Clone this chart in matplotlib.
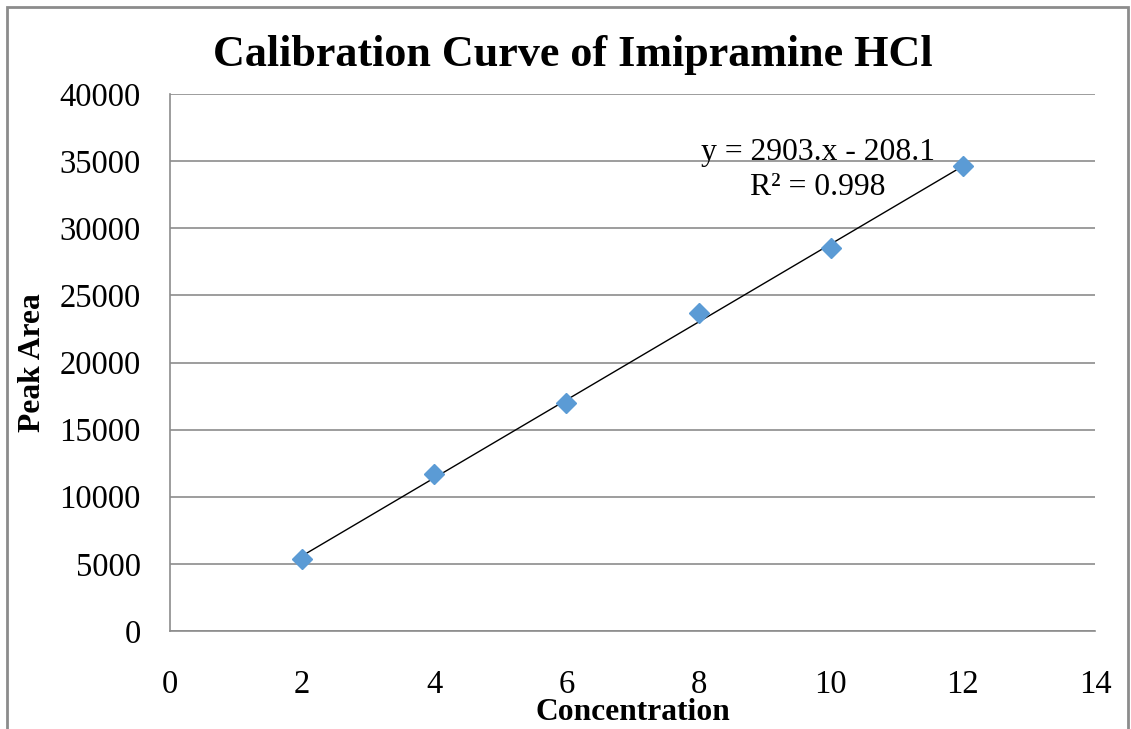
import matplotlib
matplotlib.use("Agg")
import matplotlib.pyplot as plt
from matplotlib.patches import Rectangle
import numpy as np

concentration = [2, 4, 6, 8, 10, 12]
peak_area = [5360, 11700, 16980, 23690, 28530, 34640]
slope = 2903.0
intercept = -208.1
eq_text = "y = 2903.x - 208.1"
r2_text = "R² = 0.998"
x_ticks = [0, 2, 4, 6, 8, 10, 12, 14]
y_ticks = [0, 5000, 10000, 15000, 20000, 25000, 30000, 35000, 40000]

plt.rcParams['font.family'] = ['Liberation Serif', 'DejaVu Serif']

W, H = 1131, 729
fig = plt.figure(figsize=(W / 100, H / 100), dpi=100)
ax = fig.add_axes([170 / W, 1 - 631 / H, (1095 - 170) / W, (631 - 94) / H])

ax.set_xlim(0, 14)
ax.set_ylim(0, 40000)
ax.set_xticks(x_ticks)
ax.set_yticks(y_ticks)
ax.tick_params(length=0, labelsize=23.5)
ax.tick_params(axis='y', pad=21)
ax.tick_params(axis='x', pad=28)
ax.grid(axis='y', color='#8c8c8c', lw=1.2)
ax.set_axisbelow(True)
for s in ['top', 'right']:
    ax.spines[s].set_visible(False)
for s in ['left', 'bottom']:
    ax.spines[s].set_color('#8c8c8c')
    ax.spines[s].set_linewidth(1.2)

xs = np.array([concentration[0], concentration[-1]])
ax.plot(xs, slope * xs + intercept, color='black', lw=1.0, zorder=3)
ax.plot(concentration, peak_area, linestyle='none', marker='D', ms=10,
        color='#5B9BD5', mec='#5B9BD5', zorder=4)

ax.text(9.81, 35630, eq_text, fontsize=22.8, ha='center', va='center')
ax.text(9.81, 33050, r2_text, fontsize=22.8, ha='center', va='center')

fig.text(573 / W, 1 - 55 / H, "Calibration Curve of Imipramine HCl",
         fontsize=31.8, fontweight='bold', ha='center', va='center')
fig.text(633 / W, 1 - 712 / H, "Concentration", fontsize=22.7,
         fontweight='bold', ha='center', va='center')
fig.text(32 / W, 1 - 363 / H, "Peak Area", fontsize=22.7, fontweight='bold',
         ha='center', va='center', rotation=90)

fig.patches.append(Rectangle((7 / W, -0.1), (1128 - 7) / W, 1 - 7 / H + 0.1,
                             transform=fig.transFigure, fill=False,
                             edgecolor='#8c8c8c', lw=2))

fig.savefig("out.png", dpi=100)
